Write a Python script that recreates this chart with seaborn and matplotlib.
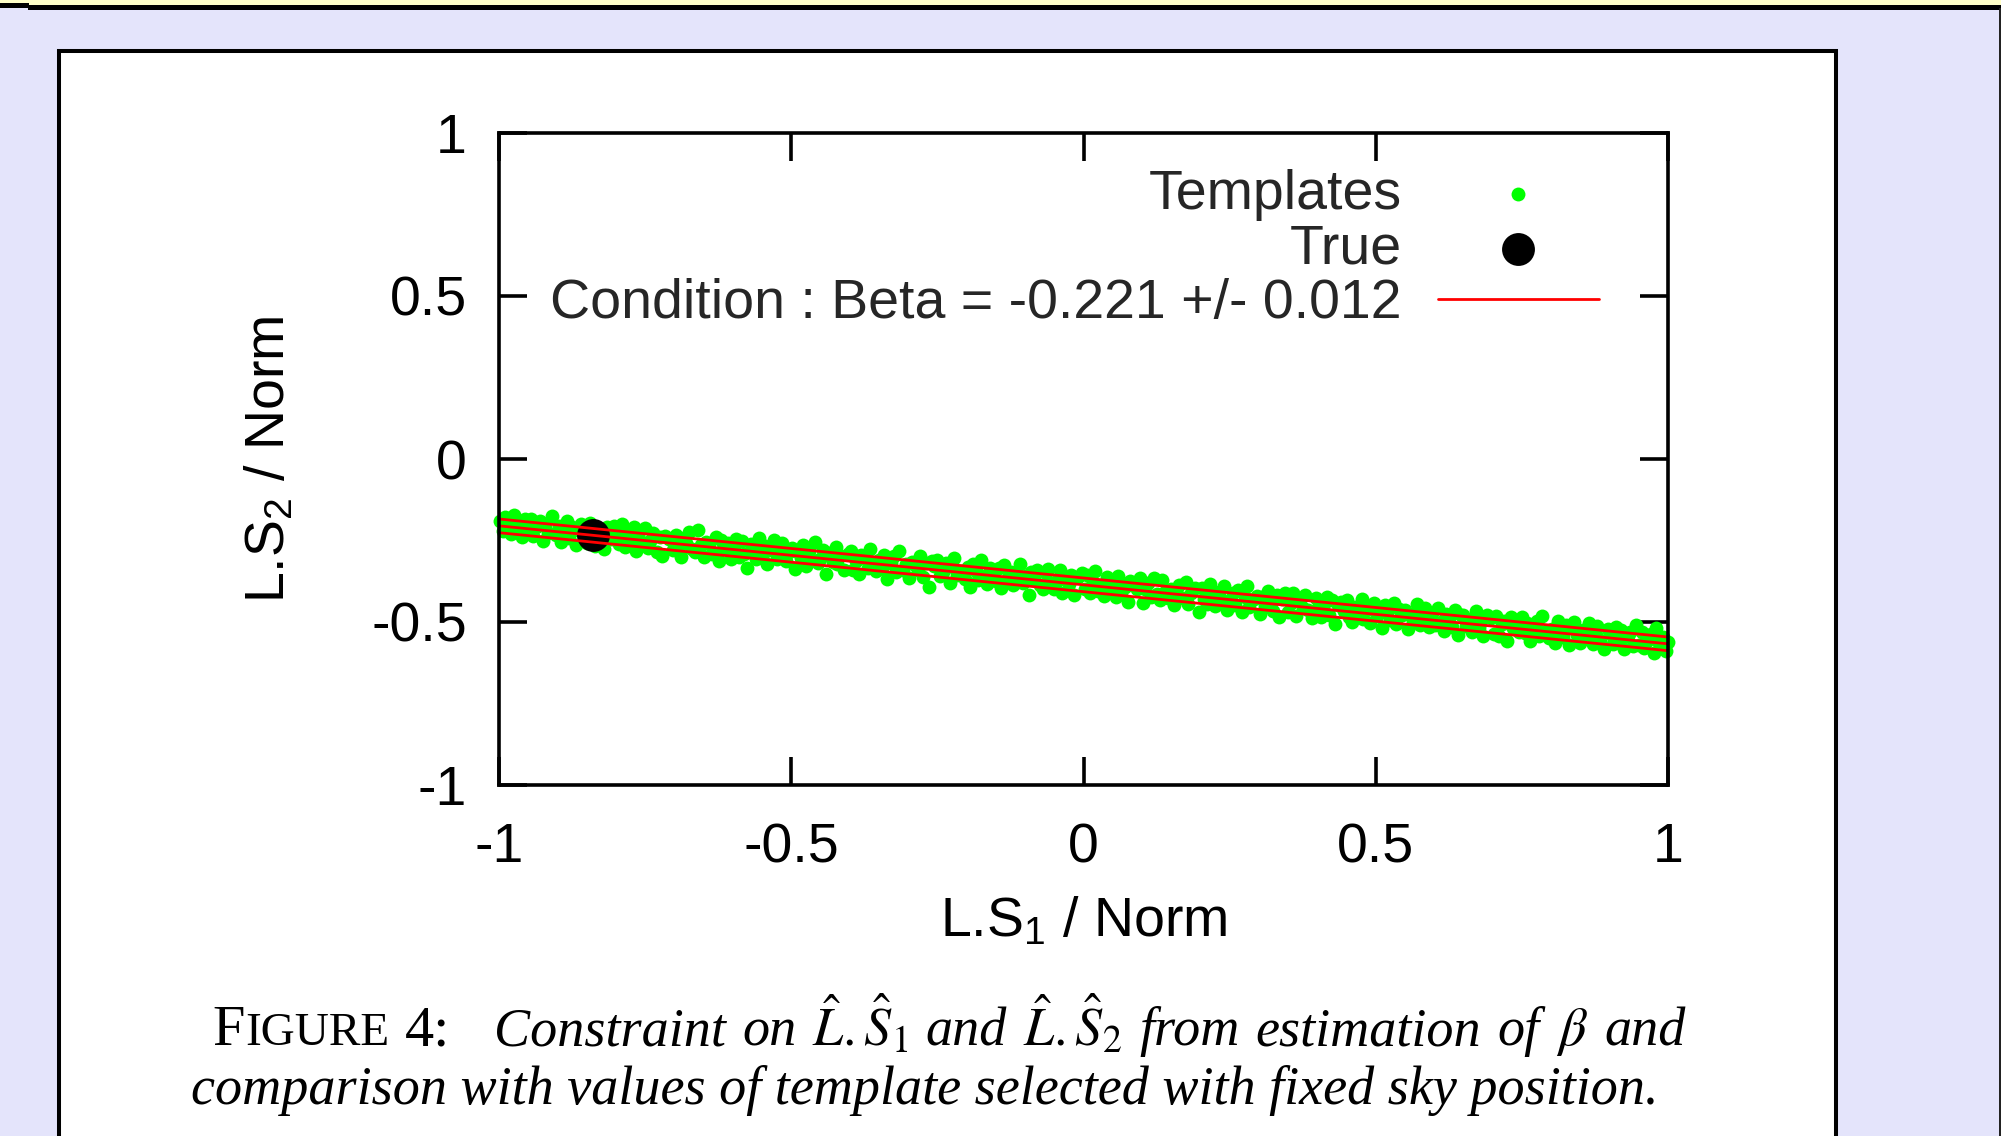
import matplotlib
matplotlib.use("Agg")
import pandas as pd
from matplotlib import pyplot as plt
from matplotlib.patches import Rectangle
from matplotlib.offsetbox import TextArea, HPacker, AnchoredOffsetbox
import seaborn as sns

# template points (x, y)
templates_x = [
    -0.998, -0.994, -0.989, -0.984, -0.980, -0.975, -0.969, -0.965, -0.960, -0.955,
    -0.950, -0.945, -0.941, -0.936, -0.929, -0.924, -0.921, -0.916, -0.909, -0.903,
    -0.898, -0.894, -0.889, -0.884, -0.880, -0.875, -0.869, -0.865, -0.860, -0.855,
    -0.850, -0.845, -0.841, -0.836, -0.829, -0.824, -0.821, -0.816, -0.809, -0.803,
    -0.798, -0.794, -0.789, -0.784, -0.780, -0.775, -0.769, -0.765, -0.760, -0.755,
    -0.750, -0.745, -0.741, -0.736, -0.729, -0.724, -0.721, -0.716, -0.709, -0.703,
    -0.698, -0.694, -0.689, -0.684, -0.680, -0.675, -0.669, -0.665, -0.660, -0.655,
    -0.650, -0.645, -0.641, -0.636, -0.629, -0.624, -0.621, -0.616, -0.609, -0.603,
    -0.598, -0.594, -0.589, -0.584, -0.580, -0.575, -0.569, -0.565, -0.560, -0.555,
    -0.550, -0.545, -0.541, -0.536, -0.529, -0.524, -0.521, -0.516, -0.509, -0.503,
    -0.498, -0.494, -0.489, -0.484, -0.480, -0.475, -0.469, -0.465, -0.460, -0.455,
    -0.450, -0.445, -0.441, -0.436, -0.429, -0.424, -0.421, -0.416, -0.409, -0.403,
    -0.398, -0.394, -0.389, -0.384, -0.380, -0.375, -0.369, -0.365, -0.360, -0.355,
    -0.350, -0.345, -0.341, -0.336, -0.329, -0.324, -0.321, -0.316, -0.309, -0.303,
    -0.298, -0.294, -0.289, -0.284, -0.280, -0.275, -0.269, -0.265, -0.260, -0.255,
    -0.250, -0.245, -0.241, -0.236, -0.229, -0.224, -0.221, -0.216, -0.209, -0.203,
    -0.198, -0.194, -0.189, -0.184, -0.180, -0.175, -0.169, -0.165, -0.160, -0.155,
    -0.150, -0.145, -0.141, -0.136, -0.129, -0.124, -0.121, -0.116, -0.109, -0.103,
    -0.098, -0.094, -0.089, -0.084, -0.080, -0.075, -0.069, -0.065, -0.060, -0.055,
    -0.050, -0.045, -0.041, -0.036, -0.029, -0.024, -0.021, -0.016, -0.009, -0.003,
    0.002, 0.006, 0.011, 0.016, 0.020, 0.025, 0.031, 0.035, 0.040, 0.045,
    0.050, 0.055, 0.059, 0.064, 0.071, 0.076, 0.079, 0.084, 0.091, 0.097,
    0.102, 0.106, 0.111, 0.116, 0.120, 0.125, 0.131, 0.135, 0.140, 0.145,
    0.150, 0.155, 0.159, 0.164, 0.171, 0.176, 0.179, 0.184, 0.191, 0.197,
    0.202, 0.206, 0.211, 0.216, 0.220, 0.225, 0.231, 0.235, 0.240, 0.245,
    0.250, 0.255, 0.259, 0.264, 0.271, 0.276, 0.279, 0.284, 0.291, 0.297,
    0.302, 0.306, 0.311, 0.316, 0.320, 0.325, 0.331, 0.335, 0.340, 0.345,
    0.350, 0.355, 0.359, 0.364, 0.371, 0.376, 0.379, 0.384, 0.391, 0.397,
    0.402, 0.406, 0.411, 0.416, 0.420, 0.425, 0.431, 0.435, 0.440, 0.445,
    0.450, 0.455, 0.459, 0.464, 0.471, 0.476, 0.479, 0.484, 0.491, 0.497,
    0.502, 0.506, 0.511, 0.516, 0.520, 0.525, 0.531, 0.535, 0.540, 0.545,
    0.550, 0.555, 0.559, 0.564, 0.571, 0.576, 0.579, 0.584, 0.591, 0.597,
    0.602, 0.606, 0.611, 0.616, 0.620, 0.625, 0.631, 0.635, 0.640, 0.645,
    0.650, 0.655, 0.659, 0.664, 0.671, 0.676, 0.679, 0.684, 0.691, 0.697,
    0.702, 0.706, 0.711, 0.716, 0.720, 0.725, 0.731, 0.735, 0.740, 0.745,
    0.750, 0.755, 0.759, 0.764, 0.771, 0.776, 0.779, 0.784, 0.791, 0.797,
    0.802, 0.806, 0.811, 0.816, 0.820, 0.825, 0.831, 0.835, 0.840, 0.845,
    0.850, 0.855, 0.859, 0.864, 0.871, 0.876, 0.879, 0.884, 0.891, 0.897,
    0.902, 0.906, 0.911, 0.916, 0.920, 0.925, 0.931, 0.935, 0.940, 0.945,
    0.950, 0.955, 0.959, 0.964, 0.971, 0.976, 0.979, 0.984, 0.991, 0.997,
    1.000,
]
templates_y = [
    -0.191, -0.221, -0.179, -0.204, -0.231, -0.171, -0.215, -0.195, -0.239, -0.185,
    -0.221, -0.185, -0.236, -0.210, -0.191, -0.251, -0.207, -0.227, -0.176, -0.233,
    -0.206, -0.254, -0.224, -0.191, -0.241, -0.210, -0.265, -0.218, -0.198, -0.232,
    -0.257, -0.197, -0.236, -0.266, -0.216, -0.224, -0.277, -0.210, -0.244, -0.204,
    -0.239, -0.262, -0.200, -0.269, -0.230, -0.247, -0.210, -0.281, -0.222, -0.256,
    -0.213, -0.274, -0.252, -0.227, -0.286, -0.240, -0.299, -0.236, -0.245, -0.280,
    -0.233, -0.269, -0.302, -0.242, -0.258, -0.225, -0.277, -0.286, -0.219, -0.263,
    -0.301, -0.255, -0.261, -0.290, -0.239, -0.314, -0.248, -0.275, -0.257, -0.307,
    -0.273, -0.245, -0.302, -0.252, -0.290, -0.334, -0.261, -0.278, -0.308, -0.242,
    -0.302, -0.267, -0.323, -0.278, -0.248, -0.307, -0.290, -0.258, -0.314, -0.284,
    -0.273, -0.337, -0.285, -0.304, -0.264, -0.328, -0.281, -0.310, -0.254, -0.319,
    -0.306, -0.279, -0.352, -0.287, -0.316, -0.269, -0.323, -0.299, -0.340, -0.291,
    -0.281, -0.340, -0.312, -0.353, -0.293, -0.305, -0.335, -0.276, -0.320, -0.344,
    -0.311, -0.335, -0.294, -0.367, -0.318, -0.299, -0.347, -0.282, -0.340, -0.323,
    -0.365, -0.315, -0.324, -0.340, -0.297, -0.361, -0.318, -0.392, -0.312, -0.329,
    -0.311, -0.359, -0.346, -0.318, -0.379, -0.330, -0.305, -0.356, -0.344, -0.367,
    -0.332, -0.392, -0.323, -0.344, -0.371, -0.311, -0.359, -0.382, -0.335, -0.348,
    -0.373, -0.335, -0.395, -0.326, -0.364, -0.347, -0.386, -0.354, -0.321, -0.379,
    -0.359, -0.416, -0.348, -0.369, -0.339, -0.385, -0.398, -0.351, -0.336, -0.379,
    -0.400, -0.374, -0.341, -0.412, -0.366, -0.383, -0.356, -0.418, -0.363, -0.351,
    -0.398, -0.356, -0.410, -0.378, -0.344, -0.406, -0.386, -0.419, -0.362, -0.394,
    -0.380, -0.424, -0.360, -0.410, -0.392, -0.440, -0.375, -0.384, -0.400, -0.366,
    -0.443, -0.398, -0.381, -0.422, -0.365, -0.413, -0.431, -0.372, -0.407, -0.425,
    -0.399, -0.449, -0.408, -0.387, -0.427, -0.377, -0.445, -0.411, -0.395, -0.470,
    -0.395, -0.428, -0.445, -0.384, -0.413, -0.452, -0.407, -0.434, -0.389, -0.464,
    -0.431, -0.410, -0.448, -0.402, -0.469, -0.423, -0.390, -0.455, -0.428, -0.419,
    -0.475, -0.423, -0.451, -0.405, -0.441, -0.466, -0.416, -0.484, -0.429, -0.410,
    -0.469, -0.443, -0.410, -0.481, -0.431, -0.457, -0.417, -0.464, -0.488, -0.426,
    -0.456, -0.485, -0.446, -0.422, -0.479, -0.432, -0.506, -0.449, -0.438, -0.467,
    -0.434, -0.484, -0.500, -0.453, -0.467, -0.429, -0.491, -0.462, -0.503, -0.443,
    -0.481, -0.458, -0.518, -0.449, -0.468, -0.494, -0.441, -0.505, -0.461, -0.479,
    -0.464, -0.523, -0.474, -0.496, -0.444, -0.508, -0.482, -0.456, -0.515, -0.473,
    -0.509, -0.456, -0.500, -0.529, -0.474, -0.488, -0.514, -0.462, -0.539, -0.477,
    -0.477, -0.512, -0.494, -0.530, -0.467, -0.517, -0.504, -0.542, -0.480, -0.489,
    -0.536, -0.482, -0.544, -0.507, -0.497, -0.559, -0.485, -0.517, -0.501, -0.530,
    -0.486, -0.533, -0.503, -0.557, -0.519, -0.497, -0.542, -0.482, -0.529, -0.550,
    -0.522, -0.563, -0.498, -0.533, -0.547, -0.509, -0.571, -0.518, -0.501, -0.541,
    -0.565, -0.525, -0.536, -0.503, -0.569, -0.539, -0.513, -0.554, -0.583, -0.521,
    -0.537, -0.569, -0.515, -0.556, -0.525, -0.583, -0.542, -0.531, -0.575, -0.509,
    -0.571, -0.530, -0.580, -0.558, -0.537, -0.596, -0.519, -0.563, -0.545, -0.589,
    -0.560,
]

true_x = [-0.84]
true_y = [-0.234]

# the three constraint lines (beta and its +/- band)
beta_x = [-1.0, 1.0]
beta_high = [-0.184, -0.546]
beta_mid = [-0.205, -0.567]
beta_low = [-0.226, -0.588]

tick_vals = [-1, -0.5, 0, 0.5, 1]
tick_text = ['-1', '-0.5', '0', '0.5', '1']

sns.set_style("white")
plt.rcParams['font.family'] = ['Liberation Sans', 'DejaVu Sans']
plt.rcParams['mathtext.fontset'] = 'custom'
plt.rcParams['mathtext.rm'] = 'Liberation Sans'
plt.rcParams['mathtext.it'] = 'Liberation Sans:italic'
plt.rcParams['axes.unicode_minus'] = False

W, H = 2001, 1136
fig = plt.figure(figsize=(W / 100, H / 100), dpi=100)
fig.patch.set_facecolor('#E4E4FB')


def frame_rect(x0, y0, x1, y1, **kw):
    # rectangle given in pixels from the top-left corner of the page
    fig.add_artist(Rectangle((x0 / W, 1 - y1 / H), (x1 - x0) / W, (y1 - y0) / H,
                             transform=fig.transFigure, zorder=-2, **kw))


frame_rect(0, 0, W, 5, facecolor='#FFFFC8', lw=0)
frame_rect(28, 5, W, 10, facecolor='black', lw=0)
frame_rect(0, 3, 29, 8, facecolor='black', lw=0)
frame_rect(1999, 8, W, H, facecolor='#222222', lw=0)
frame_rect(59, 51, 1836, H + 20, facecolor='white', edgecolor='black', lw=2.9)

ax = fig.add_axes([499 / W, 1 - 785 / H, 1169 / W, 652 / H])
ax.set_facecolor('white')

tmpl = pd.DataFrame({'x': templates_x, 'y': templates_y})
sns.scatterplot(data=tmpl, x='x', y='y', color='#00FF00', s=100, linewidth=0,
                ax=ax, label='Templates', clip_on=False, zorder=2)
sns.scatterplot(x=true_x, y=true_y, color='black', s=560, linewidth=0,
                ax=ax, label='True', clip_on=False, zorder=3)
for i, yy in enumerate([beta_high, beta_mid, beta_low]):
    lab = 'Condition : Beta = -0.221 +/- 0.012' if i == 0 else '_nolegend_'
    sns.lineplot(x=beta_x, y=yy, color='#FF0000', lw=2.0, ax=ax, label=lab, zorder=4)

ax.set_xlim(-1, 1)
ax.set_ylim(-1, 1)
ax.set_xticks(tick_vals)
ax.set_xticklabels(tick_text)
ax.set_yticks(tick_vals)
ax.set_yticklabels(tick_text)
ax.tick_params(which='both', direction='in', length=20, width=2.6, color='black',
               top=True, right=True, bottom=True, left=True, labelsize=40,
               labelcolor='black')
ax.tick_params(axis='x', pad=27)
ax.tick_params(axis='y', pad=23)
for sp in ax.spines.values():
    sp.set_visible(True)
    sp.set_linewidth(2.6)
    sp.set_color('black')
    sp.set_zorder(5)

ax.set_xlabel(r'L.S$_1$ / Norm', fontsize=40, color='black')
ax.xaxis.set_label_coords(0.5, -0.17)
ax.set_ylabel(r'L.S$_2$ / Norm', fontsize=40, color='black')
ax.yaxis.set_label_coords(-0.173, 0.5)

handles, labels = ax.get_legend_handles_labels()
keep = [(h, l) for h, l in zip(handles, labels) if not l.startswith('_')]
leg = ax.legend([k[0] for k in keep], [k[1] for k in keep], loc='upper right',
                bbox_to_anchor=(0.941, 0.945), frameon=False, markerfirst=False,
                handlelength=2.9, handletextpad=0.65, labelspacing=0.05,
                borderpad=0, borderaxespad=0, fontsize=40, scatterpoints=1)
# gnuplot-style key: text right-aligned against the samples
leg._legend_handle_box.get_children()[0].align = 'right'

# caption (first line is justified, so its word gaps are wider)
serif = dict(family='Liberation Serif', size=42, color='black')
small = dict(serif, size=34)
ital = dict(serif, size=39, style='italic', math_fontfamily='stix')

line1_words = ['  Constraint', 'on', r'$\hat{L}.\hat{S}_1$', 'and', r'$\hat{L}.\hat{S}_2$',
               'from', 'estimation', 'of', r'$\beta$', 'and']
line2_text = 'comparison with values of template selected with fixed sky position.'


def place(pack, x, y):
    fig.add_artist(AnchoredOffsetbox(loc='center', child=pack, bbox_to_anchor=(x, y),
                                     bbox_transform=fig.transFigure, frameon=False,
                                     pad=0, borderpad=0))


fig_label = HPacker(children=[TextArea('F', textprops=serif),
                              TextArea('IGURE', textprops=small)],
                    align='baseline', pad=0, sep=0)
line1 = HPacker(children=[fig_label, TextArea('4:', textprops=serif)]
                + [TextArea(w, textprops=ital) for w in line1_words],
                align='baseline', pad=0, sep=11.7)
place(line1, 949 / W, 1 - 1026 / H)
place(HPacker(children=[TextArea(line2_text, textprops=ital)], align='baseline', pad=0, sep=0),
      925 / W, 1 - 1090 / H)

fig.savefig('out.png', dpi=100, facecolor=fig.get_facecolor())
